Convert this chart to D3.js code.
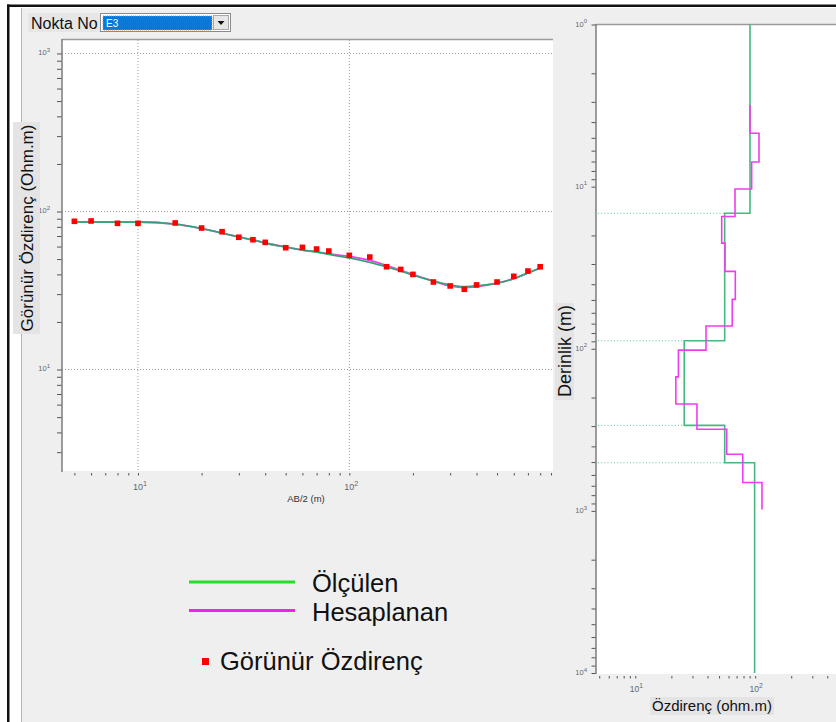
<!DOCTYPE html>
<html>
<head>
<meta charset="utf-8">
<script src="https://cdn.jsdelivr.net/npm/d3@7"></script>
<style>
  body { margin: 0; background: #fff; }
  svg { display: block; font-family: "Liberation Sans", Arial, sans-serif; }
</style>
</head>
<body>
<svg id="chart" width="836" height="722"></svg>
<script>
// sounding curve (left panel)
const abHalf = [5, 6, 8, 10, 15, 20, 25, 30, 35, 40, 50, 60, 70, 80, 100, 125, 150, 175, 200, 250, 300, 350, 400, 500, 600, 700, 800]
const gorunurRho = [86.7, 87.1, 84.2, 84.2, 84.6, 78.6, 74.5, 68.7, 66.3, 63.8, 59.0, 59.3, 57.9, 56.2, 52.8, 51.5, 44.7, 43.0, 40.0, 35.8, 33.8, 32.2, 34.3, 35.8, 38.9, 42.0, 44.7]
const olculenRho = [85.8, 85.8, 85.8, 85.8, 83.3, 78.0, 73.1, 69.0, 66.1, 63.2, 59.6, 57.0, 55.4, 53.5, 50.8, 47.6, 44.6, 42.0, 39.6, 36.3, 34.3, 33.5, 33.8, 35.2, 37.6, 40.8, 43.9]
const hesaplananRho = [85.8, 85.8, 85.8, 85.8, 83.3, 78.0, 73.1, 69.0, 66.1, 63.2, 59.6, 57.0, 55.6, 53.9, 52.0, 49.0, 45.5, 42.5, 39.9, 36.3, 33.8, 33.0, 33.5, 35.2, 37.6, 40.8, 43.9]

// layered models (right panel)
const olcDepths = [1, 14.6, 89.3, 297, 505, 10000]
const olcRho = [90.6, 55.7, 25.6, 55.7, 99]
const hesDepths = [3.14, 4.69, 7.05, 10.35, 15.3, 22.3, 33.3, 49.6, 72.4, 102, 149, 219, 314, 447, 668, 980]
const hesRho = [90.6, 107.7, 93.5, 67.9, 52.6, 56.0, 68.3, 64.4, 38.9, 22.9, 21.8, 32.7, 57.9, 78.8, 114]

const legendLines = ['Ölçülen', 'Hesaplanan']
const legendPoint = 'Görünür Özdirenç'

const GREEN = '#46b97e'
const MAGENTA = '#f03cf0'
const LABEL = '#5f6776'

const svg = d3.select('#chart')

// window frame
svg.append('rect').attr('x', 21).attr('y', 8).attr('width', 815).attr('height', 714).attr('fill', '#efefef')
svg.append('line').attr('x1', 21.5).attr('x2', 21.5).attr('y1', 8).attr('y2', 722).attr('stroke', '#b4b4b4')
svg.append('rect').attr('x', 7).attr('y', 4.5).attr('width', 829).attr('height', 2.5).attr('fill', '#111')
svg.append('rect').attr('x', 7).attr('y', 4.5).attr('width', 2.5).attr('height', 718).attr('fill', '#111')

// "Nokta No" selector
svg.append('rect').attr('x', 28).attr('y', 13).attr('width', 72).attr('height', 19).attr('fill', '#e6e6e6')
svg.append('text').attr('x', 31).attr('y', 29).attr('font-size', 16).attr('fill', '#111').text('Nokta No')
svg.append('rect').attr('x', 100.5).attr('y', 13.5).attr('width', 130).attr('height', 18)
  .attr('fill', '#fff').attr('stroke', '#8a8a8a')
svg.append('rect').attr('x', 103).attr('y', 16).attr('width', 109).attr('height', 14)
  .attr('fill', '#0a78d6').attr('stroke', '#c98a4a').attr('stroke-dasharray', '1,1')
svg.append('text').attr('x', 106).attr('y', 27).attr('font-size', 10).attr('fill', '#fff').text('E3')
svg.append('rect').attr('x', 213.5).attr('y', 15.5).attr('width', 15).attr('height', 14)
  .attr('fill', '#e6e6e6').attr('stroke', '#a8a8a8')
svg.append('path').attr('d', 'M217.5,21 L224.5,21 L221,25 Z').attr('fill', '#111')

function powLabel (g, x, y, exp, anchor, size) {
  const t = g.append('text').attr('x', x).attr('y', y).attr('text-anchor', anchor)
    .attr('font-size', size).attr('fill', LABEL)
  t.append('tspan').text('10')
  t.append('tspan').attr('dy', -size * 0.45).attr('font-size', size * 0.8).text(exp)
}

function styleAxis (g) {
  g.select('.domain').remove()
  g.selectAll('.tick line').attr('stroke', '#555')
}

// ---------- left panel: apparent resistivity vs AB/2 ----------
const lx = d3.scaleLog().domain([4.37, 920]).range([62, 553])
const ly = d3.scaleLog().domain([2.28, 1217]).range([471, 40])

const left = svg.append('g')
left.append('rect').attr('x', 62).attr('y', 40).attr('width', 491).attr('height', 431).attr('fill', '#fff')
left.append('line').attr('x1', 62).attr('x2', 553).attr('y1', 39.5).attr('y2', 39.5).attr('stroke', '#9a9a9a').attr('stroke-width', 1.5)

const lxDecades = [10, 100]
const lyDecades = [10, 100, 1000]
left.selectAll('.vgrid').data(lxDecades).enter().append('line')
  .attr('x1', d => lx(d)).attr('x2', d => lx(d)).attr('y1', 40).attr('y2', 471)
  .attr('stroke', '#9c9c9c').attr('stroke-dasharray', '1,2')
left.selectAll('.hgrid').data(lyDecades).enter().append('line')
  .attr('x1', 62).attr('x2', 553).attr('y1', d => ly(d)).attr('y2', d => ly(d))
  .attr('stroke', '#9c9c9c').attr('stroke-dasharray', '1,2')

left.append('g').attr('transform', 'translate(62,0)')
  .call(d3.axisLeft(ly).tickValues(ly.ticks()).tickSize(5).tickSizeOuter(0).tickFormat(''))
  .call(styleAxis)
left.append('line').attr('x1', 62).attr('x2', 62).attr('y1', 39).attr('y2', 472).attr('stroke', '#7d7d7d').attr('stroke-width', 1.5)
left.append('g').attr('transform', 'translate(0,473)')
  .call(d3.axisBottom(lx).tickValues(lx.ticks()).tickSize(2.5).tickSizeOuter(0).tickFormat(''))
  .call(styleAxis)

lyDecades.forEach(d => powLabel(left, 50, ly(d) + 1.5, Math.round(Math.log10(d)), 'end', 7.5))
lxDecades.forEach(d => powLabel(left, lx(d) + 2, 490, Math.round(Math.log10(d)), 'middle', 9))

left.append('text').attr('x', 306).attr('y', 502).attr('text-anchor', 'middle')
  .attr('font-size', 9.5).attr('fill', '#333').text('AB/2 (m)')

left.append('rect').attr('x', 13).attr('y', 122).attr('width', 27).attr('height', 212).attr('fill', '#e4e4e4')
left.append('text').attr('transform', 'translate(33,228) rotate(-90)').attr('text-anchor', 'middle')
  .attr('font-size', 17).attr('fill', '#111').text('Görünür Özdirenç (Ohm.m)')

const sounding = abHalf.map((a, i) => ({ a, obs: gorunurRho[i], olc: olculenRho[i], hes: hesaplananRho[i] }))
const curve = key => d3.line().x(d => lx(d.a)).y(d => ly(d[key])).curve(d3.curveMonotoneX)

left.append('path').datum(sounding).attr('d', curve('hes'))
  .attr('fill', 'none').attr('stroke', MAGENTA).attr('stroke-width', 1.8)
left.append('path').datum(sounding).attr('d', curve('olc'))
  .attr('fill', 'none').attr('stroke', GREEN).attr('stroke-width', 1.8)
left.append('path').datum(sounding).attr('d', curve('olc'))
  .attr('fill', 'none').attr('stroke', '#2f5f74').attr('stroke-width', 0.6).attr('opacity', 0.7)

left.selectAll('.pt').data(sounding).enter().append('rect')
  .attr('x', d => lx(d.a) - 2.8).attr('y', d => ly(d.obs) - 2.8)
  .attr('width', 5.6).attr('height', 5.6).attr('fill', '#f00')

// ---------- right panel: layered model ----------
const rx = d3.scaleLog().domain([4.7, 1000]).range([596, 875])
const ry = d3.scaleLog().domain([1, 10000]).range([24.5, 673])

const right = svg.append('g')
right.append('rect').attr('x', 596).attr('y', 24.5).attr('width', 240).attr('height', 649.5).attr('fill', '#fff')
right.append('line').attr('x1', 596).attr('x2', 836).attr('y1', 24.5).attr('y2', 24.5).attr('stroke', '#9a9a9a').attr('stroke-width', 1.5)

right.append('g').attr('transform', 'translate(596,0)')
  .call(d3.axisLeft(ry).tickValues(ry.ticks()).tickSize(4.5).tickSizeOuter(0).tickFormat(''))
  .call(styleAxis)
right.append('line').attr('x1', 596).attr('x2', 596).attr('y1', 24).attr('y2', 674).attr('stroke', '#7d7d7d').attr('stroke-width', 1.5)
right.append('g').attr('transform', 'translate(0,676)')
  .call(d3.axisBottom(rx).tickValues(rx.ticks()).tickSize(2.5).tickSizeOuter(0).tickFormat(''))
  .call(styleAxis)

const ryDecades = [1, 10, 100, 1000, 10000]
ryDecades.forEach(d => powLabel(right, 587, ry(d) + 2, Math.round(Math.log10(d)), 'end', 7.5))
;[10, 100].forEach(d => powLabel(right, rx(d) + 1, 691.5, Math.round(Math.log10(d)), 'middle', 8.5))

right.append('rect').attr('x', 650).attr('y', 697).attr('width', 124).attr('height', 18).attr('fill', '#e4e4e4')
right.append('text').attr('x', 712).attr('y', 711).attr('text-anchor', 'middle')
  .attr('font-size', 15).attr('fill', '#111').text('Özdirenç (ohm.m)')
right.append('rect').attr('x', 555).attr('y', 303).attr('width', 19).attr('height', 97).attr('fill', '#e4e4e4')
right.append('text').attr('transform', 'translate(571,351) rotate(-90)').attr('text-anchor', 'middle')
  .attr('font-size', 18).attr('fill', '#111').text('Derinlik (m)')

// layer boundaries of the measured model
const bounds = olcDepths.slice(1, -1).map((d, i) => ({ d, r: Math.min(olcRho[i], olcRho[i + 1]) }))
right.selectAll('.bound').data(bounds).enter().append('line')
  .attr('x1', 598).attr('x2', d => rx(d.r)).attr('y1', d => ry(d.d)).attr('y2', d => ry(d.d))
  .attr('stroke', '#59c48c').attr('stroke-dasharray', '1,2.2')

function steps (depths, rhos) {
  const pts = []
  rhos.forEach((r, i) => {
    pts.push([r, depths[i]])
    pts.push([r, depths[i + 1]])
  })
  return pts
}
const stepLine = d3.line().x(d => rx(d[0])).y(d => ry(d[1]))

right.append('path').datum(steps(olcDepths, olcRho)).attr('d', stepLine)
  .attr('fill', 'none').attr('stroke', GREEN).attr('stroke-width', 1.6)
right.append('path').datum(steps(hesDepths, hesRho)).attr('d', stepLine)
  .attr('fill', 'none').attr('stroke', MAGENTA).attr('stroke-width', 1.6)

// ---------- legend ----------
const legend = svg.append('g')
const legendColors = ['#22e022', '#f020f0']
legendLines.forEach((name, i) => {
  const y = 582 + i * 28.5
  legend.append('line').attr('x1', 189).attr('x2', 295).attr('y1', y).attr('y2', y)
    .attr('stroke', legendColors[i]).attr('stroke-width', 3)
  legend.append('text').attr('x', 312).attr('y', y + 10).attr('font-size', 25.5).attr('fill', '#111').text(name)
})
legend.append('rect').attr('x', 202).attr('y', 658).attr('width', 7).attr('height', 7).attr('fill', '#f00')
legend.append('text').attr('x', 220).attr('y', 670).attr('font-size', 25.5).attr('fill', '#111').text(legendPoint)
</script>
</body>
</html>
